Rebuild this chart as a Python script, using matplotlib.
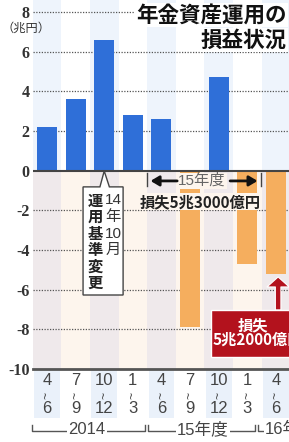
import matplotlib
matplotlib.use('Agg')
import matplotlib.pyplot as plt
from matplotlib.patches import Rectangle, Polygon

plt.rcParams['font.family'] = ['Noto Sans CJK JP', 'DejaVu Sans']

# quarterly gain/loss, trillion yen
months_from = ['4', '7', '10', '1', '4', '7', '10', '1', '4']
months_to = ['6', '9', '12', '3', '6', '9', '12', '3', '6']
values = [2.2, 3.6, 6.6, 2.8, 2.6, -7.9, 4.7, -4.7, -5.2]
y_ticks = [-10, -8, -6, -4, -2, 0, 2, 4, 6, 8]
y_ticklabels = ['-10', '-8', '-6', '-4', '-2', '0', '2', '4', '6', '8']
grid_levels = [-8, -6, -4, -2, 2, 4, 6, 8]

BLUE = '#2f6fd8'
ORANGE = '#f5ae5e'
RED = '#b3121d'
LATIN = ['Liberation Sans', 'Noto Sans CJK JP', 'DejaVu Sans']

fig = plt.figure(figsize=(2.89, 4.42), dpi=100)
ax = fig.add_axes([33 / 289, 73 / 442, 256 / 289, 369 / 442])
x0, x1 = -0.49, 8.46
ymax = 8.6
ax.set_xlim(x0, x1)
ax.set_ylim(-10, ymax)

# column stripes
xt = ax.get_xaxis_transform()
for i in range(0, 10):
    odd = i % 2 == 0
    ax.add_patch(Rectangle((i - 0.5, 0), 1, ymax, color='#eef4fc' if odd else 'white', zorder=0, lw=0))
    ax.add_patch(Rectangle((i - 0.5, -10), 1, 10, color='#efe9eb' if odd else '#fdf5ed', zorder=0, lw=0))
    if odd:
        ax.add_patch(Rectangle((i - 0.45, -0.133), 0.9, 0.133, transform=xt, color='#eaf1fa',
                               zorder=0, lw=0, clip_on=False))

ax.hlines(grid_levels, x0, x1, colors='#555555', linestyles=(0, (1, 1.2)), lw=0.9, zorder=1)

xs = list(range(len(values)))
ax.bar(xs, values, width=0.7, color=[BLUE if v > 0 else ORANGE for v in values], zorder=2)
ax.axhline(0, color='#444444', lw=1.5, zorder=3)

for s in ['top', 'right', 'left']:
    ax.spines[s].set_visible(False)
ax.spines['bottom'].set_color('#555555')
ax.spines['bottom'].set_linewidth(2)
ax.spines['bottom'].set_zorder(3)
ax.set_xticks([])
ax.set_yticks(y_ticks)
ax.set_yticklabels(y_ticklabels, fontfamily='Liberation Serif', fontweight='bold', fontsize=11.5, color='#333333')
ax.tick_params(axis='y', length=0, pad=2.5)

# quarter labels under the axis
for x, a, b in zip(xs, months_from, months_to):
    ax.text(x, -0.0325, a, transform=xt, ha='center', va='center', fontsize=12, color='#444444',
            family=LATIN, clip_on=False)
    ax.text(x, -0.0705, '~', transform=xt, ha='center', va='center', fontsize=9, color='#444444',
            family=LATIN, rotation=90, clip_on=False)
    ax.text(x, -0.1057, b, transform=xt, ha='center', va='center', fontsize=12, color='#444444',
            family=LATIN, clip_on=False)

# year brackets
brackets = [(-0.52, 3.43, '2014', 1.4, 'center'), (3.52, 7.28, '15年度', 5.45, 'center'),
            (7.38, 9.5, '16年', 7.62, 'left')]
for a, b, label, tx, ha in brackets:
    ax.plot([a, a, b, b], [-0.152, -0.168, -0.168, -0.152], transform=xt, color='#555555', lw=1,
            clip_on=False)
    ax.text(tx, -0.163, label, transform=xt, ha=ha, va='center', fontsize=12, color='#444444',
            family=LATIN, clip_on=False, bbox=dict(fc='white', ec='none', pad=1))

# callout: change of investment rules
ax.add_patch(Polygon([(1.26, -0.82), (1.85, -0.82), (2.0, -0.02), (2.18, -0.82), (2.66, -0.82),
                      (2.66, -6.27), (1.26, -6.27)], closed=True, fc='white', ec='#444444', lw=1, zorder=4))
for k, ch in enumerate('運用基準変更'):
    ax.text(1.68, -1.5 - 0.835 * k, ch, ha='center', va='center', fontsize=11, fontweight='bold',
            color='#222222', zorder=5)
for k, ch in enumerate(['14', '年', '10', '月']):
    ax.text(2.31, -1.5 - 0.835 * k, ch, ha='center', va='center', fontsize=11, color='#333333',
            family=LATIN, zorder=5)

# fiscal 2015 span
ax.plot([3.5, 3.5], [-0.1, -0.8], color='#444444', lw=1, zorder=4)
ax.plot([7.48, 7.48], [-0.1, -0.8], color='#444444', lw=1, zorder=4)
ax.text(5.42, -0.52, '15年度', ha='center', va='center', fontsize=11, color='#666666', family=LATIN,
        zorder=5, bbox=dict(fc='#fdf5ed', ec='none', pad=0.5))
arrow = dict(arrowstyle='-|>,head_width=0.3,head_length=0.5', color='#111111', lw=2, mutation_scale=10,
             shrinkA=0, shrinkB=0)
ax.annotate('', xy=(3.62, -0.52), xytext=(4.55, -0.52), arrowprops=arrow, zorder=5)
ax.annotate('', xy=(7.36, -0.52), xytext=(6.4, -0.52), arrowprops=arrow, zorder=5)
ax.text(5.35, -1.58, '損失5兆3000億円', ha='center', va='center', fontsize=11, fontweight='bold',
        color='#222222', zorder=5, bbox=dict(fc='#fdf5ed', ec='none', pad=0.3))

# red callout
ax.add_patch(Rectangle((5.73, -9.39), 3.5, 2.37, fc=RED, ec='white', lw=1, zorder=6))
ax.annotate('', xy=(8.08, -5.36), xytext=(8.08, -7.02),
            arrowprops=dict(arrowstyle='simple,head_width=1.0,head_length=0.45,tail_width=0.25',
                            mutation_scale=16, fc=RED, ec='white', lw=0.8, shrinkA=0, shrinkB=0),
            zorder=6)
ax.text(7.2, -7.78, '損失', ha='center', va='center', fontsize=11, fontweight='bold', color='white',
        zorder=7)
ax.text(5.77, -8.54, '5兆2000億円', ha='left', va='center', fontsize=11, fontweight='bold',
        color='white', zorder=7)

# title and unit
fig.text(287 / 289, 1 - 15 / 442, '年金資産運用の', ha='right', va='center', fontsize=15.5,
         fontweight='bold', color='#111111', bbox=dict(fc='white', ec='none', pad=1))
fig.text(287 / 289, 1 - 40 / 442, '損益状況', ha='right', va='center', fontsize=15.5,
         fontweight='bold', color='#111111', bbox=dict(fc='white', ec='none', pad=1))
fig.text(26 / 289, 1 - 28 / 442, '（兆円）', ha='center', va='center', fontsize=8.8, color='#333333')

fig.savefig('out.png', dpi=100)
